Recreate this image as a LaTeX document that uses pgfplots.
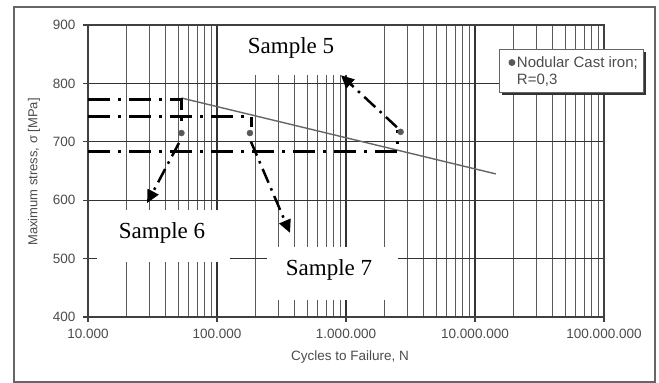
\documentclass[border=0pt]{standalone}
\usepackage{fontspec}
\setmainfont{Liberation Sans}
\newfontfamily\seriffont{Liberation Serif}
\usepackage{pgfplots}
\pgfplotsset{compat=1.18}
\usetikzlibrary{arrows.meta,shadows}
\begin{document}
\begin{tikzpicture}
\useasboundingbox (0,0) rectangle (659pt,383pt);
\fill[white] (0,0) rectangle (659pt,383pt);
\draw[black!60, line width=1.5pt] (14pt,1pt) rectangle (655pt,376pt);
\begin{axis}[
  at={(88pt,66pt)}, anchor=south west,
  scale only axis, width=516pt, height=292pt,
  xmode=log, xmin=1e4, xmax=1e8, ymin=400, ymax=900,
  xtick={1e4,1e5,1e6,1e7,1e8},
  xticklabels={10.000,100.000,1.000.000,10.000.000,100.000.000},
  ytick={400,500,600,700,800,900},
  grid=both,
  major grid style={black!80, line width=1.2pt},
  minor grid style={black!65, line width=1pt},
  axis line style={black!75, line width=1.2pt},
  tick style={black!75, line width=1.2pt},
  tick align=outside,
  major tick length=5pt,
  minor tick length=0pt,
  xtick pos=bottom, ytick pos=left,
  ticklabel style={font=\fontsize{13.5}{15}\selectfont, text=black!70},
  yticklabel style={xshift=-4pt},
  xticklabel style={yshift=-4pt},
  /pgf/number format/assume math mode=true,
  clip=false,
  legend style={at={(0.7965,0.918)}, anchor=north west, draw=black!60, line width=0.8pt,
    fill=white, font=\fontsize{15}{18}\selectfont, text=black!70,
    inner xsep=4pt, inner ysep=5pt,
    drop shadow={shadow xshift=2.5pt, shadow yshift=-2.5pt, fill=black!80, opacity=1},
    row sep=1pt},
  legend cell align=left,
]
\addplot[black!60, line width=1.4pt, forget plot] coordinates {(53000,775) (14.5e6,645)};
\addplot[only marks, mark=*, mark size=3pt, black!65] coordinates {(53000,715) (180000,715) (2.65e6,717)};
\addlegendentry{Nodular Cast iron;}
\addlegendimage{empty legend}
\addlegendentry{R=0,3}
% dash-dot guide lines
\addplot[black, line width=3pt, dash pattern=on 22pt off 8pt on 3pt off 8pt, forget plot] coordinates {(1e4,773) (53000,773) (53000,734)};
\addplot[black, line width=3pt, dash pattern=on 22pt off 8pt on 3pt off 8pt, forget plot] coordinates {(1e4,742.5) (186000,742.5) (186000,725)};
\addplot[black, line width=3pt, dash pattern=on 22pt off 8pt on 3pt off 8pt, forget plot] coordinates {(1e4,684) (2.52e6,684) (2.52e6,720)};
% arrows
\addplot[black, line width=2.5pt, dash pattern=on 15pt off 6pt on 2.5pt off 6pt, -{Triangle[length=13pt,width=12pt]}, forget plot] coordinates {(50700,698) (28700,595)};
\addplot[black, line width=2.5pt, dash pattern=on 15pt off 6pt on 2.5pt off 6pt, -{Triangle[length=13pt,width=12pt]}, forget plot] coordinates {(183500,700) (368000,544)};
\addplot[black, line width=2.5pt, dash pattern=on 15pt off 6pt on 2.5pt off 6pt, -{Triangle[length=13pt,width=12pt]}, forget plot] coordinates {(2.48e6,725) (914000,814)};
% label boxes
\fill[white] (axis cs:133000,898) rectangle (axis cs:1.40e6,814.4);
\fill[white] (axis cs:11740,583.2) rectangle (axis cs:126000,494.2);
\fill[white] (axis cs:244000,519.9) rectangle (axis cs:2.53e6,429);
\node[font=\seriffont\fontsize{23}{26}\selectfont] at (axis cs:375000,860.6) {Sample 5};
\node[font=\seriffont\fontsize{23}{26}\selectfont] at (axis cs:37500,543.8) {Sample 6};
\node[font=\seriffont\fontsize{23}{26}\selectfont] at (axis cs:738000,480.5) {Sample 7};
\end{axis}
\node[font=\fontsize{13.5}{15}\selectfont, text=black!70] at (350pt,26pt) {Cycles to Failure, N};
\node[font=\fontsize{13}{15}\selectfont, text=black!70, rotate=90] at (34pt,211pt) {Maximum stress, σ [MPa]};
\end{tikzpicture}
\end{document}
